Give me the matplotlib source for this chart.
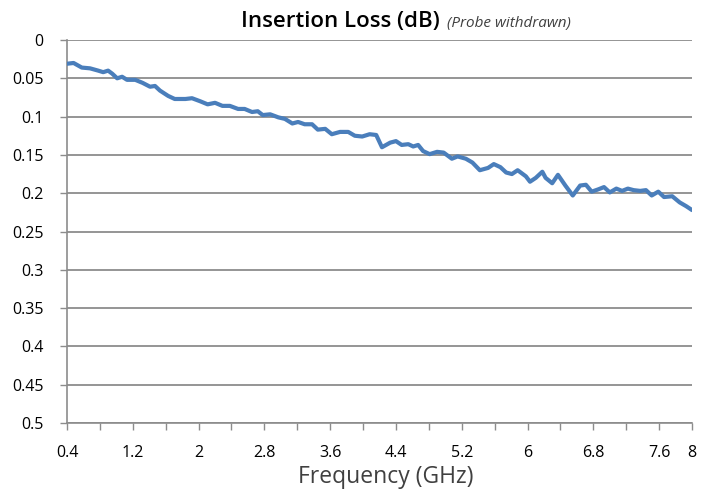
import numpy as np
import matplotlib.pyplot as plt
from matplotlib.ticker import MultipleLocator

# frequency (GHz) and insertion loss (dB)
freq = [0.40, 0.48, 0.58, 0.68, 0.78, 0.84, 0.90, 0.95, 1.01, 1.07, 1.13, 1.23,
        1.32, 1.41, 1.47, 1.53, 1.63, 1.71, 1.84, 1.92, 2.02, 2.11, 2.20, 2.29,
        2.38, 2.48, 2.56, 2.65, 2.72, 2.78, 2.87, 2.97, 3.05, 3.14, 3.21, 3.29,
        3.38, 3.45, 3.54, 3.62, 3.72, 3.82, 3.90, 3.99, 4.08, 4.16, 4.23, 4.33,
        4.40, 4.47, 4.55, 4.61, 4.67, 4.73, 4.81, 4.90, 4.98, 5.08, 5.15, 5.25,
        5.33, 5.42, 5.52, 5.59, 5.67, 5.74, 5.81, 5.88, 5.98, 6.03, 6.10, 6.18,
        6.22, 6.30, 6.37, 6.46, 6.55, 6.64, 6.71, 6.78, 6.86, 6.93, 7.00, 7.08,
        7.15, 7.22, 7.29, 7.37, 7.44, 7.51, 7.59, 7.66, 7.76, 7.85, 7.93, 8.00]
loss = [0.031, 0.030, 0.036, 0.037, 0.040, 0.042, 0.040, 0.044, 0.050, 0.048, 0.052, 0.052,
        0.056, 0.061, 0.060, 0.066, 0.073, 0.077, 0.077, 0.076, 0.080, 0.084, 0.082, 0.086,
        0.086, 0.090, 0.090, 0.094, 0.093, 0.098, 0.097, 0.101, 0.103, 0.109, 0.107, 0.110,
        0.110, 0.117, 0.116, 0.123, 0.120, 0.120, 0.125, 0.126, 0.123, 0.124, 0.140, 0.134,
        0.132, 0.137, 0.136, 0.139, 0.137, 0.145, 0.149, 0.146, 0.147, 0.155, 0.152, 0.155,
        0.160, 0.170, 0.167, 0.162, 0.166, 0.173, 0.175, 0.170, 0.178, 0.185, 0.180, 0.172,
        0.180, 0.187, 0.176, 0.190, 0.203, 0.190, 0.189, 0.198, 0.195, 0.192, 0.199, 0.194,
        0.197, 0.194, 0.196, 0.197, 0.196, 0.203, 0.198, 0.205, 0.204, 0.212, 0.217, 0.222]

xlabels = [0.4, 1.2, 2, 2.8, 3.6, 4.4, 5.2, 6, 6.8, 7.6, 8]
yticks = [0, 0.05, 0.1, 0.15, 0.2, 0.25, 0.3, 0.35, 0.4, 0.45, 0.5]

plt.rcParams['font.family'] = ['Open Sans', 'DejaVu Sans']

fig = plt.figure(figsize=(7.13, 4.91), dpi=100)
ax = fig.add_axes([67 / 713, 1 - 423 / 491, 625 / 713, 383 / 491])

ax.plot(freq, loss, color='#4a7ebb', lw=3.0, solid_capstyle='round', zorder=3)

ax.set_xlim(0.4, 8)
ax.set_ylim(0.5, 0)
ax.set_yticks(yticks)
ax.set_yticklabels([('%g' % v) for v in yticks])
ax.set_xticks(xlabels)
ax.set_xticklabels([('%g' % v) for v in xlabels])
ax.xaxis.set_minor_locator(MultipleLocator(0.4))

ax.grid(axis='y', color='#8c8c8c', lw=1.3)
ax.set_axisbelow(True)
for s in ['top', 'right']:
    ax.spines[s].set_visible(False)
for s in ['left', 'bottom']:
    ax.spines[s].set_color('#8c8c8c')
    ax.spines[s].set_linewidth(1.2)

ax.tick_params(axis='both', which='both', color='#8c8c8c', width=1.0,
               length=5, labelsize=11.5, colors='#8c8c8c', labelcolor='black')
ax.tick_params(axis='x', pad=11)
ax.tick_params(axis='y', pad=12)

fig.text(386 / 713, 1 - 483 / 491, 'Frequency (GHz)', ha='center', va='baseline',
         fontsize=16.5, color='#404040')

fig.text(440 / 713, 1 - 27 / 491, 'Insertion Loss (dB)', ha='right', va='baseline',
         fontsize=16, fontweight='semibold', color='black')
fig.text(447 / 713, 1 - 27 / 491, '(Probe withdrawn)', ha='left', va='baseline',
         fontsize=11, fontstyle='italic', color='#404040')

fig.savefig('out.png', dpi=100)
